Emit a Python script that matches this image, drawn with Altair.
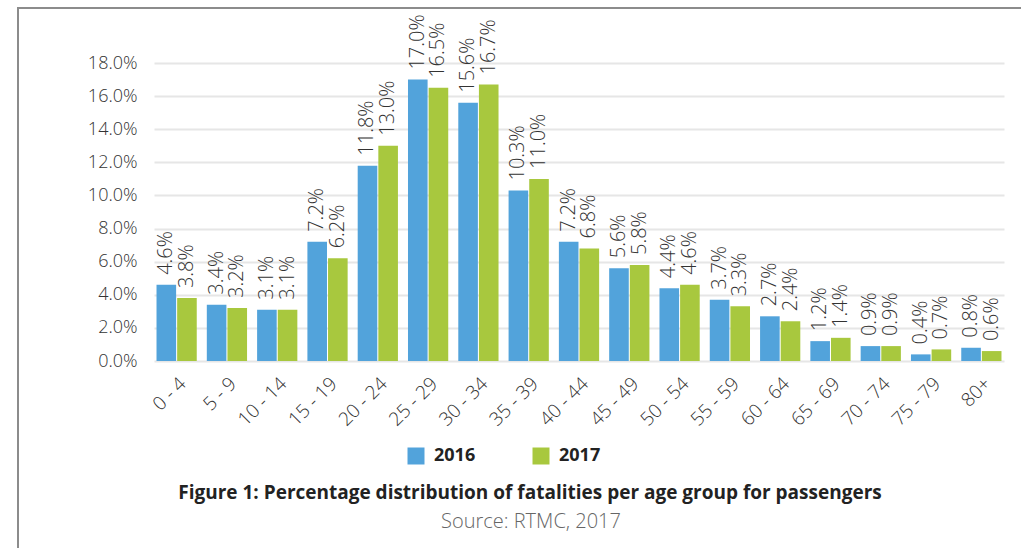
import altair as alt
import pandas as pd

ages = ["0 - 4", "5 - 9", "10 - 14", "15 - 19", "20 - 24", "25 - 29", "30 - 34",
        "35 - 39", "40 - 44", "45 - 49", "50 - 54", "55 - 59", "60 - 64",
        "65 - 69", "70 - 74", "75 - 79", "80+"]
v2016 = [4.6, 3.4, 3.1, 7.2, 11.8, 17.0, 15.6, 10.3, 7.2, 5.6, 4.4, 3.7, 2.7, 1.2, 0.9, 0.4, 0.8]
v2017 = [3.8, 3.2, 3.1, 6.2, 13.0, 16.5, 16.7, 11.0, 6.8, 5.8, 4.6, 3.3, 2.4, 1.4, 0.9, 0.7, 0.6]
years = ["2016", "2017"]
colors = ["#52A3DB", "#A8C83E"]
y_ticks = [0, 2, 4, 6, 8, 10, 12, 14, 16, 18]
title_text = "Figure 1: Percentage distribution of fatalities per age group for passengers"
source_text = "Source: RTMC, 2017"

rows = []
for a, b, c in zip(ages, v2016, v2017):
    rows.append({"age": a, "year": years[0], "value": b})
    rows.append({"age": a, "year": years[1], "value": c})
df = pd.DataFrame(rows)

FONT = "Open Sans"
W, H = 850, 298
PL, PT = 154, 63

base = alt.Chart(df).encode(
    x=alt.X("age:N", sort=ages,
            scale=alt.Scale(paddingInner=0.2, paddingOuter=0.05),
            axis=alt.Axis(title=None, labelAngle=-45, labelAlign="right",
                          labelBaseline="top", labelPadding=13, ticks=False,
                          domain=False, labelFontSize=19, labelColor="#333333",
                          labelFont=FONT, labelFontWeight=300)),
    xOffset=alt.XOffset("year:N", sort=years, scale=alt.Scale(paddingInner=0.05)),
    y=alt.Y("value:Q", scale=alt.Scale(domain=[0, 18], nice=False),
            axis=alt.Axis(title=None, values=y_ticks,
                          labelExpr="format(datum.value, '.1f') + '%'",
                          grid=True, gridColor="#e6e6e6", gridWidth=2,
                          domain=False, ticks=False, labelFontSize=18,
                          labelPadding=17, labelColor="#333333", labelFont=FONT,
                          labelFontWeight=300)),
)

bars = base.mark_bar().encode(
    color=alt.Color("year:N", sort=years,
                    scale=alt.Scale(domain=years, range=colors),
                    legend=alt.Legend(title=None, orient="none", direction="horizontal",
                                      legendX=253, legendY=384,
                                      symbolType="square", symbolSize=289,
                                      symbolStrokeWidth=0, labelFontSize=18,
                                      labelFontWeight="bold", labelColor="#222222",
                                      labelFont=FONT, labelOffset=9,
                                      columnPadding=56))
)

labels = base.transform_calculate(
    label="format(datum.value, '.1f') + '%'"
).mark_text(angle=270, align="left", baseline="middle", dx=10,
            fontSize=20, color="#333333", font=FONT, fontWeight=300).encode(text="label:N")

one = pd.DataFrame({"k": [0]})
frame = alt.Chart(one).mark_rect(fill="transparent", stroke="#8c8c8c", strokeWidth=2).encode(
    x=alt.value(18 - PL), x2=alt.value(1040 - PL),
    y=alt.value(8 - PT), y2=alt.value(570 - PT))

title = alt.Chart(one).mark_text(text=title_text, align="center", baseline="middle",
                                 fontSize=19, fontWeight="bold", color="#222222",
                                 font=FONT).encode(x=alt.value(530 - PL), y=alt.value(493 - PT))
source = alt.Chart(one).mark_text(text=source_text, align="center", baseline="middle",
                                  fontSize=20, color="#666666", fontWeight=300,
                                  font=FONT).encode(x=alt.value(531 - PL), y=alt.value(522 - PT))

chart = alt.layer(frame, bars, labels, title, source).properties(
    width=W, height=H, autosize="none",
    padding={"left": PL, "top": PT, "right": 1021 - PL - W, "bottom": 548 - PT - H},
    background="white",
).configure_view(stroke=None)

chart.save("out.html", embed_options={"renderer": "svg", "actions": False})
